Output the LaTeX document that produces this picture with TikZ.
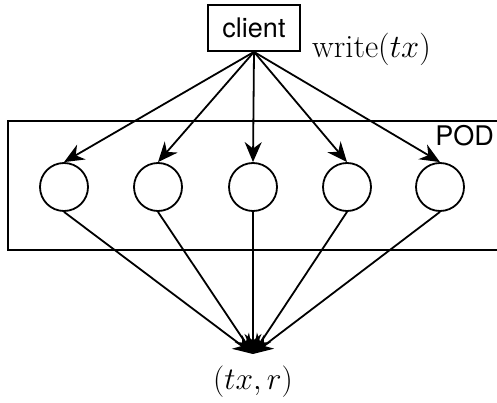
\RequirePackage{fix-cm}
\documentclass[tikz,border=0pt]{standalone}
\usepackage{fontspec}
\newfontfamily\helvfont{TeX Gyre Heros}
\usetikzlibrary{arrows.meta}
\tikzset{
  replica/.style={circle, draw, line width=1.8pt, minimum size=48pt, inner sep=0pt},
  msg/.style={line width=1.8pt, -{Stealth[length=20pt, width=17pt]}},
}
\begin{document}
\begin{tikzpicture}[x=1pt, y=-1pt]
  \useasboundingbox (0,0) rectangle (497,403);
  \clip (0,0) rectangle (497,403);

  % POD frame, running off the right edge
  \draw[line width=1.8pt] (8,121) rectangle (520,250);
  \node[anchor=base east, inner sep=0pt, font=\helvfont\fontsize{27}{30}\selectfont] (podlabel) at (494,146) {POD};

  % Client and its request
  \node[draw, line width=1.8pt, minimum width=92pt, minimum height=46pt, inner sep=0pt,
        font=\helvfont\fontsize{27}{30}\selectfont] (client) at (254,28) {client};
  \node[anchor=west, inner sep=0pt, font=\fontsize{32.5}{36}\selectfont] (write) at (312,49) {$\mathrm{write}(tx)$};

  % Replicas
  \foreach \i/\x in {1/64, 2/158, 3/253, 4/347, 5/440}
    \node[replica] (r\i) at (\x,187) {};

  % Result
  \coordinate (sink) at (253,354);
  \node[inner sep=0pt, font=\fontsize{31.5}{35}\selectfont] (result) at (253,382) {$(tx,r)$};

  % Fan out and fan in
  \foreach \i in {1,...,5} {
    \draw[msg] (client.south) -- (r\i.north);
    \draw[msg] (r\i.south) -- (sink);
  }
\end{tikzpicture}
\end{document}
